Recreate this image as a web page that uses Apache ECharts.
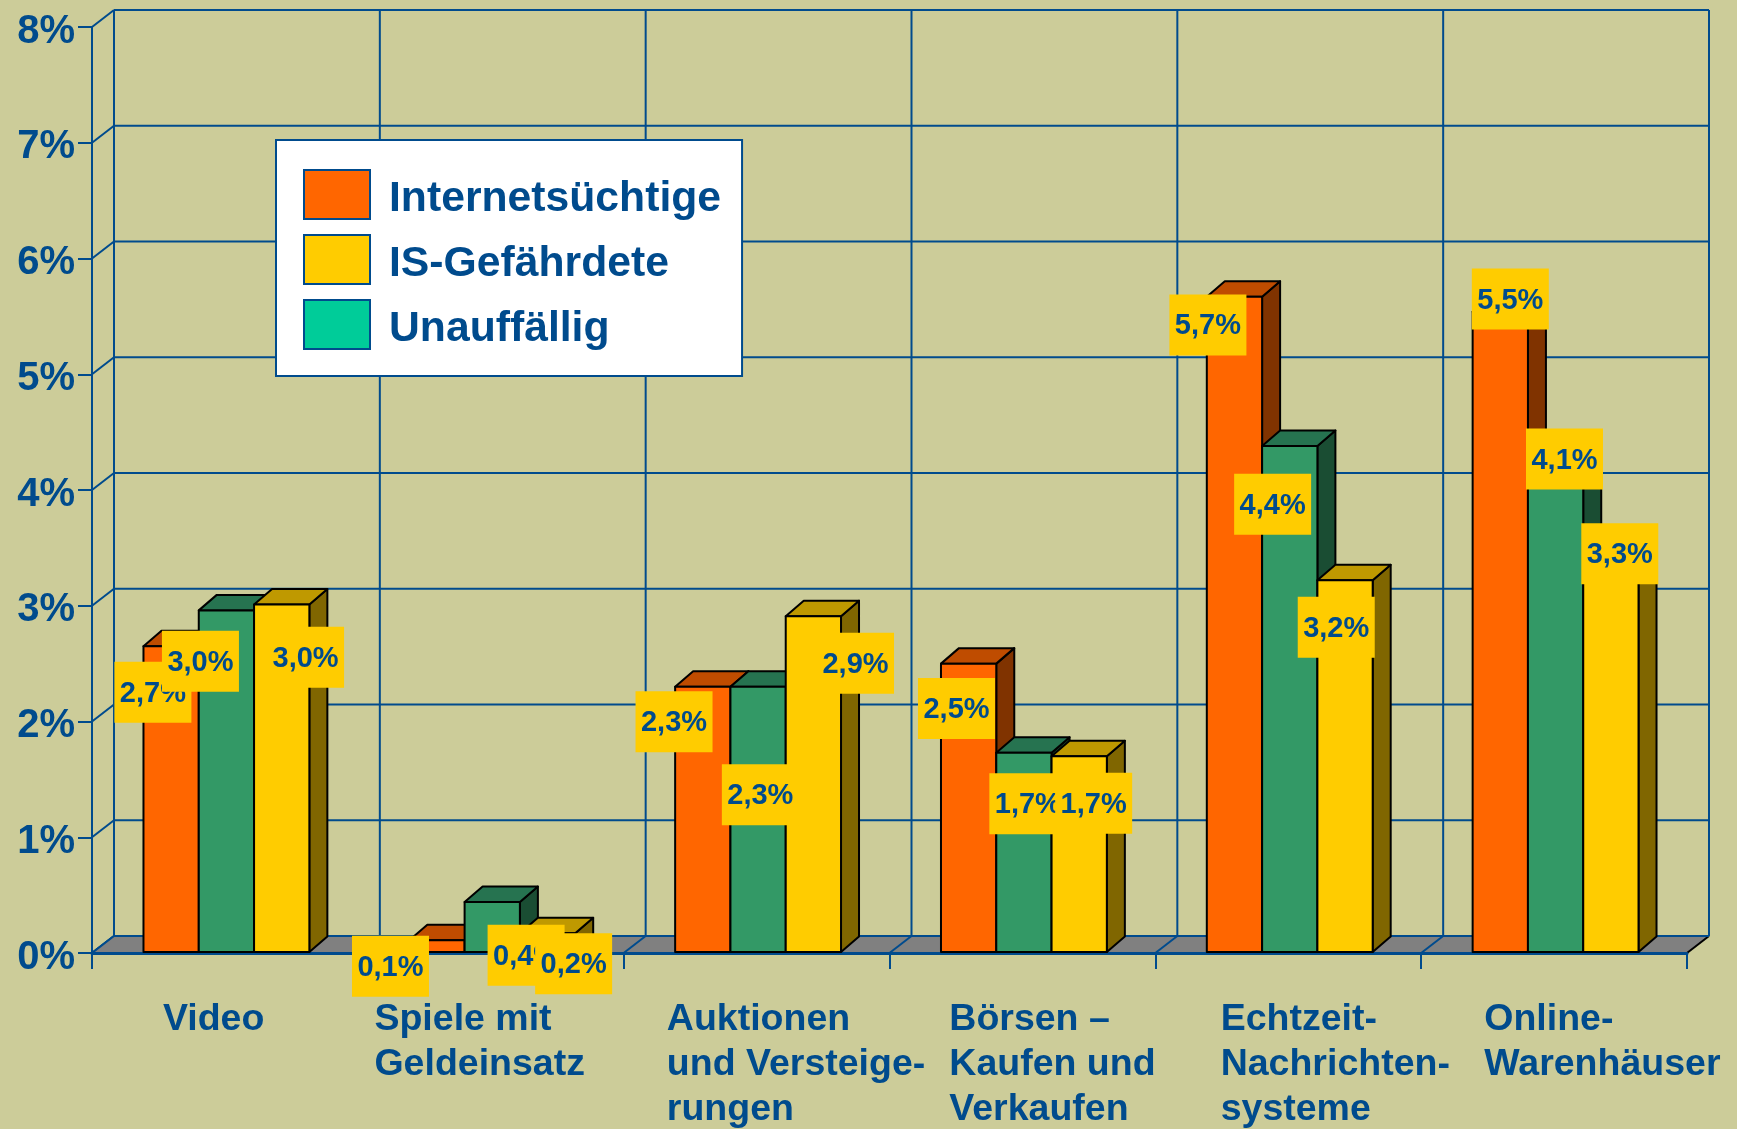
<!DOCTYPE html>
<html><head><meta charset="utf-8">
<style>html,body{margin:0;padding:0;background:#CCCC99}#c{width:1737px;height:1129px}</style>
<script src="https://cdn.jsdelivr.net/npm/echarts@6/dist/echarts.min.js"></script>
</head><body><div id="c"></div>
<script>
// ---- data ----
const categories = ['Video','Spiele mit\nGeldeinsatz','Auktionen\nund Versteige-\nrungen','Börsen –\nKaufen und\nVerkaufen','Echtzeit-\nNachrichten-\nsysteme','Online-\nWarenhäuser'];
const internetsuechtige = [2.65,0.11,2.30,2.50,5.67,5.54];
const unauffaellig      = [2.96,0.44,2.30,1.73,4.38,4.10];
const isGefaehrdete     = [3.01,0.17,2.91,1.70,3.22,3.30];
const yTicks = [0,1,2,3,4,5,6,7,8];

// ---- layout (px offsets, not data) ----
const U = 1737/1568;
const catLabelDx = [-56,-105,-81,-66,-61,-63];
const labelDx = {o:[-16,-41.5,-25.5,-10.5,-23.5,9.5], g:[-23,31,2.5,4,-15,8.5], y:[22,24,38.5,13.5,-7.5,8.5]};
const labelDy = {o:[41.5,23.5,31.5,40.5,25.5,-11.5], g:[46,48,97.5,46,52.5,-17.5], y:[47.5,27.5,42.5,42.5,42.5,-15.5]};
const BLUE='#004B8D', FONT='"Liberation Sans", Arial, sans-serif';
const WALL=[22,17], BAR=[18,15.5], BARW=0.208, BAR_SHIFT=1.5;

const chart = echarts.init(document.getElementById('c'),null,{renderer:'canvas'});
const line=(x1,y1,x2,y2,stroke,w)=>({type:'line',shape:{x1,y1,x2,y2},style:{stroke:stroke||BLUE,lineWidth:w||2}});
const poly=(points,fill)=>({type:'polygon',shape:{points},style:{fill,stroke:'#000',lineWidth:2,lineJoin:'round'}});

function wallSeries(){
  return {type:'custom',name:'_wall',z:1,silent:true,animation:false,
    data:categories.map((c,i)=>[i,0]),encode:{x:0,y:1},
    renderItem(p,api){
      const i=api.value(0),band=api.size([1,0])[0],c=api.coord([i,0]),x=c[0]-band/2;
      const top=api.coord([i,8])[1],kids=[];
      kids.push(line(x+WALL[0],c[1]-WALL[1],x+WALL[0],top-WALL[1]));
      kids.push(line(x,c[1],x+WALL[0],c[1]-WALL[1]));
      if(i===categories.length-1){
        kids.push(line(x+band+WALL[0],c[1]-WALL[1],x+band+WALL[0],top-WALL[1]));
      }
      return {type:'group',children:kids};
    }};
}
function wallRows(){
  return {type:'custom',name:'_rows',z:1,silent:true,animation:false,
    data:yTicks.map(v=>[0,v]),encode:{x:0,y:1},
    renderItem(p,api){
      const v=api.value(1),band=api.size([1,0])[0],c=api.coord([0,v]),x0=c[0]-band/2,x1=x0+band*categories.length;
      return {type:'group',children:[
        line(x0+WALL[0],c[1]-WALL[1],x1+WALL[0],c[1]-WALL[1]),
        line(x0,c[1],x0+WALL[0],c[1]-WALL[1])
      ]};
    }};
}
function floorSeries(){
  return {type:'custom',name:'_floor',z:2,silent:true,animation:false,
    data:[[0,0]],encode:{x:0,y:1},
    renderItem(p,api){
      const band=api.size([1,0])[0],c=api.coord([0,0]),x0=c[0]-band/2,x1=x0+band*categories.length,y=c[1];
      const kids=[{type:'polygon',shape:{points:[[x0,y],[x1,y],[x1+WALL[0],y-WALL[1]],[x0+WALL[0],y-WALL[1]]]},style:{fill:'#808080'}},
        line(x1,y,x1+WALL[0],y-WALL[1],'#000',2),
        line(x0+WALL[0],y-WALL[1],x1+WALL[0],y-WALL[1])];
      for(let k=0;k<categories.length;k++){
        const bx=x0+k*band;
        kids.push(line(bx,y,bx+WALL[0],y-WALL[1]));
      }
      return {type:'group',children:kids};
    }};
}
function barSeries(name,values,slot,front,topC,side,z){
  return {type:'custom',name,z,animation:false,silent:true,
    itemStyle:{color:front},
    data:values.map((v,i)=>[i,v]),encode:{x:0,y:1},
    renderItem(p,api){
      const i=api.value(0),v=api.value(1),band=api.size([1,0])[0],w=band*BARW;
      const t=api.coord([i,v]),b=api.coord([i,0]);
      const xl=t[0]+BAR_SHIFT+(slot-1)*w-w/2,xr=xl+w,yt=t[1],yb=b[1]-1,dx=BAR[0],dy=BAR[1];
      return {type:'group',children:[
        poly([[xr,yt],[xr+dx,yt-dy],[xr+dx,yb-dy],[xr,yb]],side),
        poly([[xl,yt],[xl+dx,yt-dy],[xr+dx,yt-dy],[xr,yt]],topC),
        poly([[xl,yt],[xr,yt],[xr,yb],[xl,yb]],front)
      ]};
    }};
}
function labelSeries(key,values,slot,z){
  return {type:'custom',name:'_lab'+key,z,animation:false,silent:true,
    data:values.map((v,i)=>[i,v]),encode:{x:0,y:1},
    renderItem(p,api){
      const i=api.value(0),v=api.value(1),band=api.size([1,0])[0],w=band*BARW;
      const t=api.coord([i,v]);
      const cx=t[0]+1+(slot-1)*w+labelDx[key][i]*U,cy=t[1]+labelDy[key][i]*U;
      const txt=(Math.round(v*10+1e-6)/10).toFixed(1).replace('.',',')+'%';
      return {type:'group',children:[
        {type:'rect',shape:{x:cx-38.5,y:cy-30.5,width:77,height:61},style:{fill:'#FFCC00'}},
        {type:'text',style:{x:cx,y:cy+1.5,text:txt,fill:BLUE,font:'bold 29px '+FONT,textAlign:'center',textVerticalAlign:'middle'}}
      ]};
    }};
}
function catLabels(){
  return {type:'custom',name:'_cat',z:9,animation:false,silent:true,
    data:categories.map((c,i)=>[i,0]),encode:{x:0,y:1},
    renderItem(p,api){
      const i=api.value(0),c=api.coord([i,0]);
      return {type:'text',style:{x:c[0]+catLabelDx[i]*U,y:c[1]+44,text:categories[i],fill:BLUE,
        font:'bold 37.5px '+FONT,lineHeight:45,textAlign:'left',textVerticalAlign:'top'}};
    }};
}

chart.setOption({
  animation:false,
  backgroundColor:'#CCCC99',
  grid:{left:92,right:50,top:27,bottom:176,containLabel:false},
  xAxis:{type:'category',data:categories,boundaryGap:true,z:3,
    axisLine:{show:true,lineStyle:{color:BLUE,width:3}},
    axisTick:{show:true,length:16,interval:0,lineStyle:{color:BLUE,width:2}},
    axisLabel:{show:false},splitLine:{show:false}},
  yAxis:{type:'value',min:0,max:8,interval:1,z:3,
    axisLine:{show:true,lineStyle:{color:BLUE,width:2}},
    axisTick:{show:true,length:14,lineStyle:{color:BLUE,width:2}},
    axisLabel:{formatter:'{value}%',color:BLUE,fontFamily:FONT,fontWeight:'bold',fontSize:40,margin:17,verticalAlign:'top',lineHeight:9},
    splitLine:{show:false}},
  legend:{orient:'vertical',left:276,top:140,padding:[28,21,25,27],itemGap:12,itemWidth:66,itemHeight:49,
    backgroundColor:'#fff',borderColor:BLUE,borderWidth:2,selectedMode:false,icon:'rect',
    formatter:'{a|{name}}',
    textStyle:{color:BLUE,fontFamily:FONT,fontWeight:'bold',fontSize:42.7,
      rich:{a:{color:BLUE,fontFamily:FONT,fontWeight:'bold',fontSize:42.7,lineHeight:38,padding:[10,0,0,14]}}},
    itemStyle:{borderColor:BLUE,borderWidth:2},
    data:[{name:'Internetsüchtige',itemStyle:{color:'#FF6600'}},
          {name:'IS-Gefährdete',itemStyle:{color:'#FFCC00'}},
          {name:'Unauffällig',itemStyle:{color:'#00CC99'}}],z:20},
  series:[
    wallSeries(),wallRows(),floorSeries(),
    barSeries('Internetsüchtige',internetsuechtige,0,'#FF6600','#BF4C00','#803300',4),
    barSeries('Unauffällig',unauffaellig,1,'#339966','#267350','#1A4D33',5),
    barSeries('IS-Gefährdete',isGefaehrdete,2,'#FFCC00','#BF9900','#806600',6),
    labelSeries('o',internetsuechtige,0,7),
    labelSeries('g',unauffaellig,1,8),
    labelSeries('y',isGefaehrdete,2,9),
    catLabels()
  ]
});
</script></body></html>
